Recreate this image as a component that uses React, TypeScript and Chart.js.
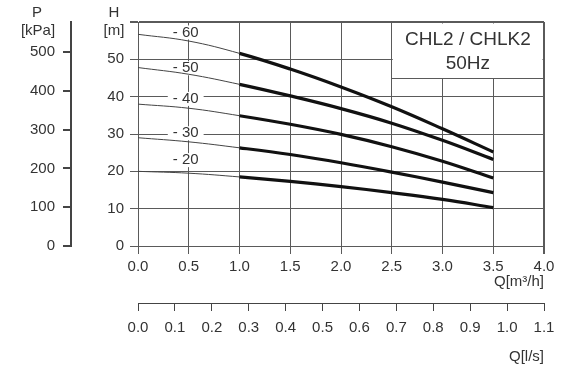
import React, { useEffect, useRef } from 'react';
import { Chart, registerables } from 'chart.js';

Chart.register(...registerables);

// ---- data ----
const flowM3h = [0, 0.5, 1.0, 1.5, 2.0, 2.5, 3.0, 3.5];
const head60 = [56.7, 54.9, 51.6, 47.4, 42.6, 37.3, 31.4, 25.2];
const head50 = [47.8, 46.0, 43.3, 40.2, 36.8, 32.9, 28.3, 23.2];
const head40 = [38.0, 36.9, 34.9, 32.6, 29.9, 26.6, 22.7, 18.2];
const head30 = [29.0, 27.9, 26.3, 24.5, 22.3, 19.8, 17.1, 14.3];
const head20 = [20.0, 19.5, 18.5, 17.3, 15.9, 14.3, 12.5, 10.3];
const curveLabels = ['- 60', '- 50', '- 40', '- 30', '- 20'];
const boxLines = ['CHL2 / CHLK2', '50Hz'];
const pressureTitle = ['P', '[kPa]'];
const headTitle = ['H', '[m]'];
const flowTitle = 'Q[m³/h]';
const flowLsTitle = 'Q[l/s]';

// annotation anchors (data coordinates)
const labelQ = 0.47;
const labelH = [57.2, 47.6, 39.4, 30.2, 23.0];
const boxQ = [2.5, 4.0];
const boxH = [45, 60];
const boxTextH = [55.2, 48.8];

const FONT = '"Liberation Sans", Arial, Helvetica, sans-serif';
const TEXT = '#333';
const GRID = '#5a5a5a';
const AXIS = '#444';

const curves = [head60, head50, head40, head30, head20];

const overlay = {
  id: 'overlay',
  beforeDatasetsDraw(chart: any) {
    const { ctx } = chart;
    const x = chart.scales.x;
    const y = chart.scales.y;
    ctx.save();
    // info box
    const bx0 = x.getPixelForValue(boxQ[0]);
    const bx1 = x.getPixelForValue(boxQ[1]);
    const byTop = y.getPixelForValue(boxH[1]);
    const byBot = y.getPixelForValue(boxH[0]);
    ctx.fillStyle = '#fff';
    ctx.fillRect(bx0 + 1, byTop + 1.5, bx1 - bx0 - 2.5, byBot - byTop - 1.5);
    ctx.strokeStyle = GRID;
    ctx.lineWidth = 1;
    ctx.beginPath();
    const yb = Math.round(byBot) + 0.5;
    ctx.moveTo(bx0, yb);
    ctx.lineTo(bx1, yb);
    ctx.stroke();
    ctx.fillStyle = TEXT;
    ctx.font = `19px ${FONT}`;
    ctx.textAlign = 'center';
    ctx.textBaseline = 'middle';
    boxLines.forEach((t, i) => {
      ctx.fillText(t, (bx0 + bx1) / 2, y.getPixelForValue(boxTextH[i]));
    });
    // curve labels
    ctx.font = `15px ${FONT}`;
    curveLabels.forEach((t, i) => {
      const px = x.getPixelForValue(labelQ);
      const py = y.getPixelForValue(labelH[i]);
      const w = ctx.measureText(t).width;
      ctx.fillStyle = '#fff';
      ctx.fillRect(px - w / 2 - 5, py - 7, w + 10, 14);
      ctx.fillStyle = TEXT;
      ctx.fillText(t, px, py);
    });
    ctx.restore();
  },
  afterDraw(chart: any) {
    const { ctx, chartArea } = chart;
    const p = chart.scales.p;
    const y = chart.scales.y;
    ctx.save();
    ctx.fillStyle = TEXT;
    ctx.font = `15px ${FONT}`;
    ctx.textAlign = 'center';
    ctx.textBaseline = 'middle';
    const t0 = chartArea.top - 9;
    const t1 = chartArea.top + 9;
    ctx.fillText(pressureTitle[0], p.right - 34, t0);
    ctx.fillText(pressureTitle[1], p.right - 33, t1);
    ctx.fillText(headTitle[0], y.right - 24, t0);
    ctx.fillText(headTitle[1], y.right - 24, t1);
    ctx.restore();
  },
};

export default function App() {
  const ref = useRef<HTMLCanvasElement>(null);
  useEffect(() => {
    const canvas = ref.current;
    if (!canvas) return;
    Chart.defaults.font.family = FONT;
    Chart.defaults.font.size = 15;
    Chart.defaults.color = TEXT;
    const fmt1 = (v: any) => Number(v).toFixed(1);
    const chart = new Chart(canvas, {
      type: 'line',
      data: {
        datasets: curves.map((h, i) => ({
          label: curveLabels[i],
          data: flowM3h.map((q, j) => ({ x: q, y: h[j] })),
          borderColor: '#111',
          borderWidth: 3,
          pointRadius: 0,
          fill: false,
          tension: 0.4,
          segment: {
            borderWidth: (c: any) => (c.p0.parsed.x >= 0.999 ? 3.2 : 1),
            borderColor: (c: any) => (c.p0.parsed.x >= 0.999 ? '#111' : '#444'),
          },
          xAxisID: 'x',
          yAxisID: 'y',
        })),
      },
      options: {
        responsive: false,
        animation: false,
        devicePixelRatio: 1,
        layout: { padding: { top: 22, right: 19, left: 0, bottom: 0 } },
        plugins: {
          legend: { display: false },
          tooltip: { enabled: false },
          title: { display: false },
        },
        scales: {
          x: {
            type: 'linear',
            position: 'bottom',
            weight: 0,
            min: 0,
            max: 4,
            ticks: { stepSize: 0.5, callback: fmt1, padding: 4, color: TEXT, maxRotation: 0, autoSkip: false },
            grid: {
              color: GRID,
              lineWidth: (c: any) => (c.tick && c.tick.value === 4 ? 2 : 1),
              tickLength: 8,
            },
            border: { display: true, color: GRID, width: 1 },
            title: { display: true, text: flowTitle, align: 'end', color: TEXT, font: { size: 15 }, padding: { top: 0, bottom: 12 } },
            afterFit: (s: any) => { s.height = 57; },
          },
          xls: {
            type: 'linear',
            position: 'bottom',
            weight: 1,
            min: 0,
            max: 1.1,
            ticks: { stepSize: 0.1, callback: fmt1, padding: 8, color: TEXT, maxRotation: 0, autoSkip: false },
            grid: { drawOnChartArea: false, drawTicks: true, tickLength: 8, color: AXIS },
            border: { display: true, color: AXIS, width: 1 },
            title: { display: true, text: flowLsTitle, align: 'end', color: TEXT, font: { size: 15 }, padding: { top: 0, bottom: 0 } },
            afterFit: (s: any) => { s.height = 63; },
          },
          y: {
            type: 'linear',
            position: 'left',
            weight: 0,
            min: 0,
            max: 60,
            ticks: { stepSize: 10, callback: (v: any) => (Number(v) === 60 ? '' : String(v)), padding: 6, color: TEXT },
            grid: {
              color: GRID,
              lineWidth: (c: any) => (c.tick && c.tick.value === 60 ? 2 : 1),
              tickLength: 8,
            },
            border: { display: true, color: GRID, width: 1 },
            afterFit: (s: any) => { s.width = 67; },
          },
          p: {
            type: 'linear',
            position: 'left',
            weight: 1,
            min: 0,
            max: 578,
            ticks: { stepSize: 100, includeBounds: false, padding: 8, color: TEXT },
            grid: { drawOnChartArea: false, drawTicks: true, tickLength: 8, color: AXIS, lineWidth: 2 },
            border: { display: true, color: AXIS, width: 2 },
            afterFit: (s: any) => { s.width = 71; },
          },
        },
      },
      plugins: [overlay],
    } as any);
    return () => chart.destroy();
  }, []);
  return (
    <div style={{ position: 'absolute', left: 0, top: 0, width: 563, height: 366, background: '#fff' }}>
      <canvas ref={ref} width={563} height={366} style={{ display: 'block' }} />
    </div>
  );
}
